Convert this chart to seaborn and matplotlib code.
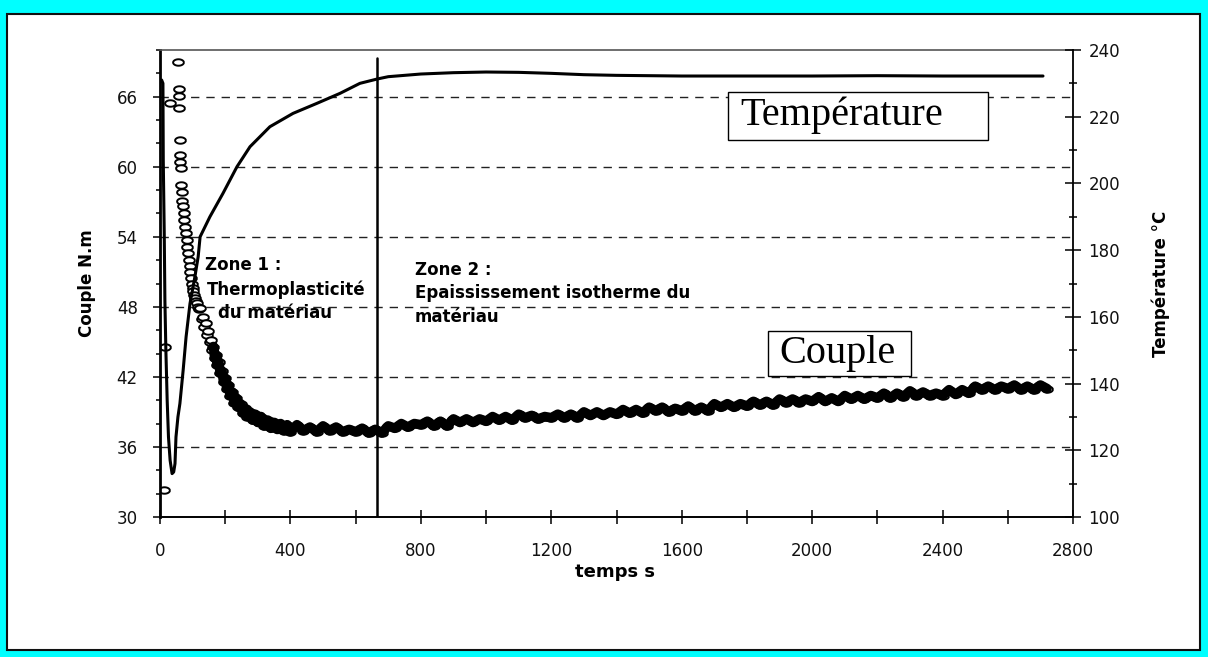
import numpy as np
import matplotlib
matplotlib.use("Agg")
import matplotlib.pyplot as plt
from matplotlib.patches import Rectangle
from matplotlib.path import Path
from matplotlib.ticker import MultipleLocator
import seaborn as sns

# --- Données ---
# Température (axe droit), temps en s
temps_temp = [5, 9, 10, 13, 15, 18, 22, 26, 31, 37, 42, 46, 49, 55, 61, 71, 80, 92,
              107, 117, 123, 153, 193, 236, 276, 337, 408, 481, 552, 613, 666,
              700, 800, 900, 1000, 1100, 1200, 1300, 1400, 1500, 1600, 1800,
              2000, 2200, 2400, 2600, 2708]
temperature = [231.0, 230.0, 207.0, 185.0, 165.0, 150.0, 135.0, 124.0, 117.0, 113.0,
               113.5, 116.0, 124.0, 130.0, 134.0, 144.0, 154.0, 164.0,
               172.0, 178.0, 184.0, 190.0, 197.0, 205.0, 211.0, 217.0, 221.0, 224.0,
               227.0, 230.0, 231.3,
               232.0, 232.8, 233.2, 233.4, 233.3, 233.0, 232.6, 232.4, 232.3, 232.2,
               232.2, 232.2, 232.3, 232.2, 232.2, 232.2]

# Couple (axe gauche), temps en s
temps_couple = [
    12, 16, 31, 56, 57, 58, 59, 60, 61, 62, 63,
    64, 66, 68, 71, 73, 75, 77, 80, 82, 84, 86, 89, 91, 93, 95, 98, 100, 102,
    105, 108, 111, 114, 117, 120,
    124, 128, 132, 136, 140, 144, 148, 152, 156, 160, 164, 168, 172, 176, 180,
    185, 190, 195, 200, 205, 210, 216, 222, 228, 234, 240, 247, 254, 261, 268,
    276, 284, 292, 300, 310, 320, 330, 340, 350, 360, 370, 380, 390, 400,
    420, 440, 460, 480, 500, 520, 540, 560, 580, 600,
    620, 640, 660, 680, 700, 720, 740, 760, 780, 800,
    820, 840, 860, 880, 900, 920, 940, 960, 980, 1000,
    1020, 1040, 1060, 1080, 1100, 1120, 1140, 1160, 1180, 1200,
    1220, 1240, 1260, 1280, 1300, 1320, 1340, 1360, 1380, 1400,
    1420, 1440, 1460, 1480, 1500, 1520, 1540, 1560, 1580, 1600,
    1620, 1640, 1660, 1680, 1700, 1720, 1740, 1760, 1780, 1800,
    1820, 1840, 1860, 1880, 1900, 1920, 1940, 1960, 1980, 2000,
    2020, 2040, 2060, 2080, 2100, 2120, 2140, 2160, 2180, 2200,
    2220, 2240, 2260, 2280, 2300, 2320, 2340, 2360, 2380, 2400,
    2420, 2440, 2460, 2480, 2500, 2520, 2540, 2560, 2580, 2600,
    2620, 2640, 2660, 2680, 2700, 2720]
couple = [
    32.3, 44.6, 65.5, 69.0, 66.7, 66.1, 65.0, 62.3, 61.0, 60.4, 59.9,
    58.4, 57.8, 57.1, 56.6, 56.0, 55.4, 54.8, 54.3, 53.7, 53.1, 52.6, 52.0, 51.5,
    51.0, 50.5, 50.0, 49.6, 49.4, 49.0, 48.8, 48.5, 48.3, 48.0, 47.8,
    47.9, 47.0, 47.1, 46.3, 46.6, 45.6, 45.9, 45.0, 45.2, 44.3, 44.6, 43.6, 43.9,
    43.0, 43.3, 42.3, 42.5, 41.6, 41.9, 41.0, 41.3, 40.4, 40.7, 39.8, 40.2, 39.4,
    39.7, 38.9, 39.3, 38.6, 39.0, 38.3, 38.8, 38.1, 38.6, 37.8, 38.3, 37.6, 38.1,
    37.5, 38.0, 37.4, 37.9, 37.3,
    37.9, 37.4, 37.7, 37.3, 37.8, 37.4, 37.7, 37.3, 37.5, 37.3,
    37.6, 37.2, 37.5, 37.2, 37.8, 37.6, 38.0, 37.7, 38.0, 37.9,
    38.2, 37.8, 38.2, 37.8, 38.4, 38.1, 38.4, 38.1, 38.4, 38.2,
    38.6, 38.3, 38.6, 38.3, 38.8, 38.5, 38.7, 38.4, 38.6, 38.5,
    38.8, 38.5, 38.8, 38.5, 39.0, 38.7, 39.0, 38.7, 39.0, 38.8,
    39.2, 38.9, 39.2, 38.9, 39.4, 39.1, 39.4, 39.0, 39.3, 39.1,
    39.5, 39.1, 39.4, 39.1, 39.7, 39.4, 39.7, 39.4, 39.7, 39.5,
    39.9, 39.6, 39.9, 39.6, 40.1, 39.8, 40.1, 39.8, 40.1, 39.9,
    40.3, 39.9, 40.2, 39.9, 40.4, 40.1, 40.4, 40.1, 40.4, 40.2,
    40.6, 40.2, 40.6, 40.3, 40.8, 40.4, 40.7, 40.4, 40.6, 40.4,
    40.9, 40.5, 40.9, 40.6, 41.2, 40.9, 41.2, 40.9, 41.2, 41.0,
    41.3, 40.9, 41.2, 40.9, 41.3, 41.0]

# séparation des deux zones (s)
temps_zone = 666
# à partir de ce point, les cercles se recouvrent en une bande noire
debut_bande = 45

# --- Style ---
sns.set_style("ticks")
plt.rcParams['font.family'] = ['DejaVu Sans']
plt.rcParams['text.color'] = 'black'
plt.rcParams['axes.labelcolor'] = 'black'
plt.rcParams['xtick.labelcolor'] = '#111111'
plt.rcParams['ytick.labelcolor'] = '#111111'

fig = plt.figure(figsize=(12.08, 6.57), dpi=100)
fig.patch.set_facecolor('#00FFFF')
fig.add_artist(Rectangle((7.5 / 1208, 7 / 657), 1192.5 / 1208, 636 / 657,
                         transform=fig.transFigure, facecolor='white',
                         edgecolor='#111111', linewidth=1.5, zorder=0))

ax = fig.add_axes([160 / 1208, 1 - 517 / 657, 913 / 1208, 467 / 657])
ax2 = ax.twinx()

# --- Couple : cercles ovales ---
ang = np.linspace(0, 2 * np.pi, 40)
oval = Path(np.column_stack([np.cos(ang), 0.6 * np.sin(ang)]))
sns.scatterplot(x=temps_couple, y=couple, ax=ax, marker=oval, s=60,
                color='white', edgecolor='black', linewidth=1.4, zorder=3)
sns.lineplot(x=temps_couple[debut_bande:], y=couple[debut_bande:], ax=ax,
             color='black', linewidth=7, estimator=None, sort=False, zorder=3.5)

# --- Température ---
sns.lineplot(x=temps_temp, y=temperature, ax=ax2, color='black',
             linewidth=2.2, estimator=None, sort=False)

# --- Axes ---
ax.set_xlim(0, 2800)
ax.set_ylim(30, 70)
ax2.set_ylim(100, 240)

ax.xaxis.set_major_locator(MultipleLocator(400))
ax.xaxis.set_minor_locator(MultipleLocator(200))
ax.yaxis.set_major_locator(MultipleLocator(6))
ax.yaxis.set_minor_locator(MultipleLocator(2))
ax2.yaxis.set_major_locator(MultipleLocator(20))
ax2.yaxis.set_minor_locator(MultipleLocator(10))

ax.tick_params(axis='x', which='both', direction='inout', length=10, width=1.1,
               pad=13, labelsize=12, color='black')
ax.tick_params(axis='y', which='both', color='black')
ax.tick_params(axis='y', which='major', direction='out', length=5, width=1.1,
               pad=11, labelsize=12)
ax.tick_params(axis='y', which='minor', direction='out', length=3, width=1.1)
ax2.tick_params(axis='y', which='both', color='black')
ax2.tick_params(axis='y', which='major', direction='inout', length=12, width=1.1,
                pad=5, labelsize=12)
ax2.tick_params(axis='y', which='minor', direction='inout', length=6, width=1.1)

ax.grid(axis='y', which='major', color='#222222', linewidth=1.0,
        linestyle=(0, (6, 5)))

for s in ['left', 'top', 'bottom']:
    ax2.spines[s].set_visible(False)
ax.spines['right'].set_visible(False)
ax.spines['left'].set_linewidth(2.0)
ax.spines['bottom'].set_linewidth(1.4)
ax.spines['top'].set_linewidth(1.2)
for s in ['left', 'bottom']:
    ax.spines[s].set_color('black')
ax.spines['top'].set_color('#555555')
ax2.spines['right'].set_linewidth(1.3)
ax2.spines['right'].set_color('black')
for s in ax.spines.values():
    s.set_zorder(4)

ax.set_xlabel('temps s', fontsize=13, fontweight='bold')
ax.xaxis.set_label_coords(0.498, -0.0985)
ax.set_ylabel('Couple N.m', fontsize=12, fontweight='bold')
ax.yaxis.set_label_coords(-0.0701, 0.5)
ax2.set_ylabel('Température °C', fontsize=12, fontweight='bold')
ax2.yaxis.set_label_coords(1.0865, 0.5)

# --- Limite des zones ---
ax.axvline(temps_zone, ymin=0.0, ymax=0.982, color='black', linewidth=1.8, zorder=2)

# --- Textes ---
zkw = dict(fontsize=12, fontweight='bold', va='baseline', ha='left', zorder=2,
           color='black')
ax.text(138, 51.16, 'Zone 1 :', **zkw)
ax.text(145, 49.01, 'Thermoplasticité', **zkw)
ax.text(178, 47.05, 'du matériau', **zkw)
ax.text(782, 50.73, 'Zone 2 :', **zkw)
ax.text(782, 48.76, 'Epaississement isotherme du', **zkw)
ax.text(782, 46.70, 'matériau', **zkw)

ax.add_patch(Rectangle((1742, 62.29), 797, 4.11, facecolor='white',
                       edgecolor='black', linewidth=1.0, zorder=5))
ax.text(1779, 63.58, 'Température', family='Liberation Serif', fontsize=29,
        va='baseline', ha='left', zorder=6)
ax.add_patch(Rectangle((1865, 42.08), 438, 3.85, facecolor='white',
                       edgecolor='black', linewidth=1.0, zorder=5))
ax.text(1901, 43.19, 'Couple', family='Liberation Serif', fontsize=29,
        va='baseline', ha='left', zorder=6)

fig.savefig('out.png', dpi=100, facecolor=fig.get_facecolor())
